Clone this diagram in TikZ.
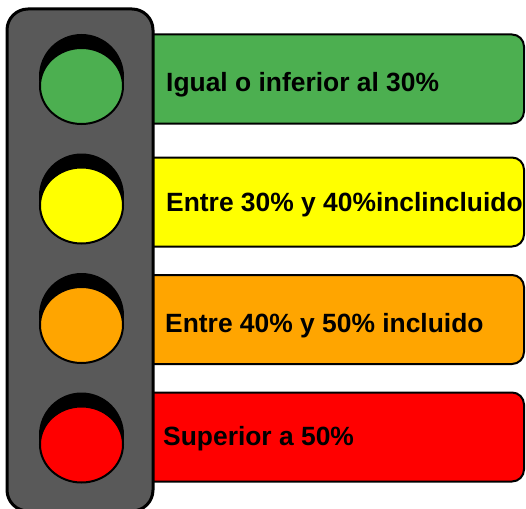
\documentclass[tikz,border=0pt]{standalone}
\usepackage{fontspec}
\setmainfont{Liberation Sans}
\definecolor{lampgreen}{RGB}{76,175,80}
\definecolor{lampyellow}{RGB}{255,255,0}
\definecolor{lampamber}{RGB}{255,165,0}
\definecolor{lampred}{RGB}{255,0,0}
\definecolor{housing}{RGB}{89,89,89}
\tikzset{
  band/.style={draw=black,line width=2pt,rounded corners=12pt,minimum width=394pt,minimum height=89pt},
  bandtext/.style={anchor=base west,inner sep=0pt,font=\bfseries\fontsize{26.4}{30}\selectfont},
  shade/.style={fill=black},
  lamp/.style={draw=black,line width=2pt}
}
\begin{document}
\begin{tikzpicture}[x=1pt,y=-1pt]
  \useasboundingbox (0,0) rectangle (526,508);
  \node [band,fill=lampgreen] (greenband) at (327,79) {};
  \node [band,fill=lampyellow] (yellowband) at (327,202) {};
  \node [band,fill=lampamber] (amberband) at (327,319.5) {};
  \node [band,fill=lampred] (redband) at (327,437) {};
  \draw [black,line width=3pt,fill=housing,rounded corners=21pt] (7,9) rectangle (153,511);
  \fill [shade] (81.5,76.5) circle [radius=42.5];
  \draw [lamp,fill=lampgreen] (81.5,86) ellipse [x radius=41.5,y radius=38];
  \fill [shade] (81.5,196) circle [radius=42.5];
  \draw [lamp,fill=lampyellow] (81.5,205.5) ellipse [x radius=41.5,y radius=38];
  \fill [shade] (81.5,315.5) circle [radius=42.5];
  \draw [lamp,fill=lampamber] (81.5,325) ellipse [x radius=41.5,y radius=38];
  \fill [shade] (81.5,435) circle [radius=42.5];
  \draw [lamp,fill=lampred] (81.5,444.5) ellipse [x radius=41.5,y radius=38];
  \node [bandtext] (greentext) at (166,92) {Igual o inferior al 30\%};
  \node [bandtext] (yellowtext) at (166,211) {Entre 30\% y 40\%inclincluido};
  \node [bandtext] (ambertext) at (165,332) {Entre 40\% y 50\% incluido};
  \node [bandtext] (redtext) at (163,445) {Superior a 50\%};
\end{tikzpicture}
\end{document}
